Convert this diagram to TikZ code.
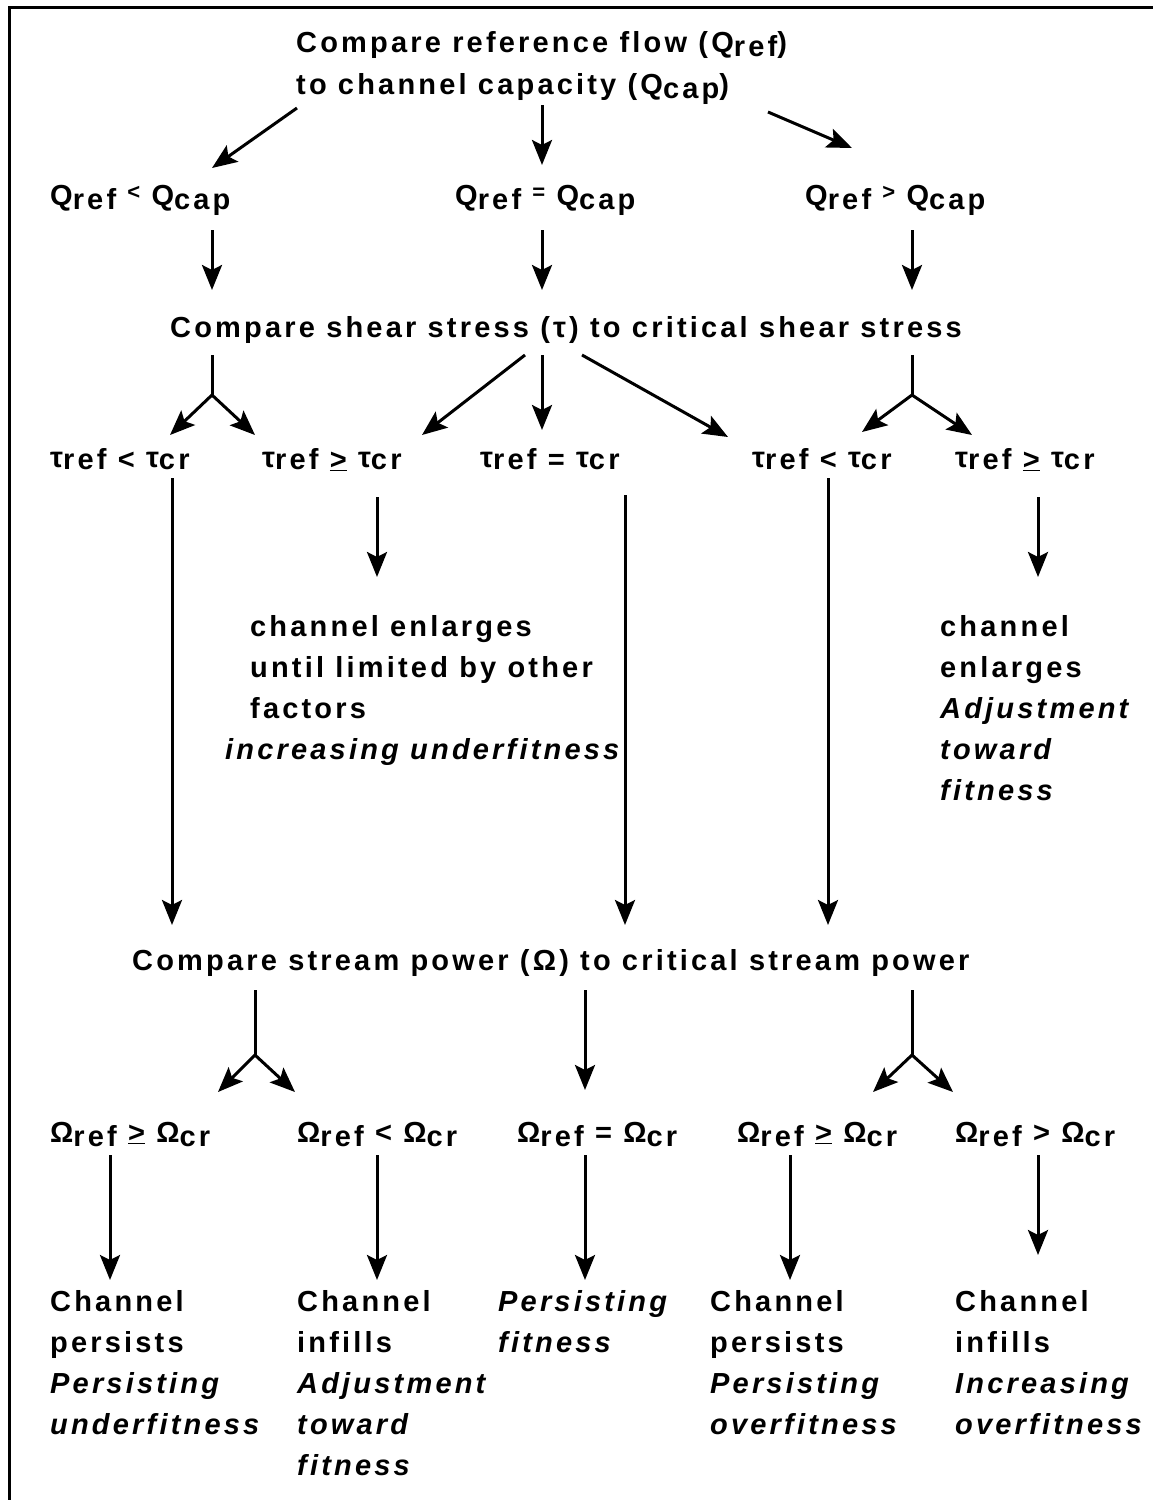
\documentclass[tikz,border=0pt]{standalone}
\usepackage{fontspec}
\setmainfont{Liberation Sans}[LetterSpace=11]
\usetikzlibrary{arrows.meta}
\newcommand\lo[1]{\raisebox{-4pt}{#1}}
\newcommand\hi[1]{\raisebox{6pt}{\fontsize{22}{22}\selectfont #1}}
\newcommand\tu{\raisebox{2pt}{τ}}
\begin{document}
\begin{tikzpicture}[x=1pt,y=-1pt,
  txt/.style={inner sep=0pt,anchor=base west,align=left,font=\fontsize{29}{41}\selectfont\bfseries},
  itx/.style={txt,font=\fontsize{29}{41}\selectfont\bfseries\itshape},
  arr/.style={line width=3pt,-{Stealth[length=25pt,width=20pt,inset=5pt]}},
  ln/.style={line width=3pt}]
\useasboundingbox (0,0) rectangle (1152,1500);
\fill[white] (0,0) rectangle (1152,1500);
\draw[line width=3pt] (9,1510) -- (9,7) -- (1160,7);
% title
\node[txt] (t1) at (296,52) {Compare reference flow (Q\lo{ref})};
\node[txt] (t2) at (296,94) {to channel capacity (Q\lo{cap})};
\draw[arr] (297,108) -- (212,168);
\draw[arr] (542,105) -- (542,165);
\draw[arr] (768,112) -- (852,148);
% Q row
\node[txt] (q1) at (50,205) {Q\lo{ref} \hi{<} Q\lo{cap}};
\node[txt] (q2) at (455,205) {Q\lo{ref} \hi{=} Q\lo{cap}};
\node[txt] (q3) at (805,205) {Q\lo{ref} \hi{>} Q\lo{cap}};
\draw[arr] (212,230) -- (212,290);
\draw[arr] (542,230) -- (542,290);
\draw[arr] (912,230) -- (912,290);
% shear
\node[txt] (sh) at (170,337) {Compare shear stress (τ) to critical shear stress};
\coordinate (f1) at (212,395);
\draw[ln] (212,355) -- (f1);
\draw[arr] (f1) -- (170,435);
\draw[arr] (f1) -- (255,435);
\draw[arr] (525,355) -- (422,435);
\draw[arr] (542,355) -- (542,430);
\draw[arr] (582,355) -- (728,437);
\coordinate (f2) at (912,395);
\draw[ln] (912,355) -- (f2);
\draw[arr] (f2) -- (862,432);
\draw[arr] (f2) -- (972,435);
% tau row
\node[txt] (a1) at (50,469) {\tu ref < \tu cr};
\node[txt] (a2) at (262,469) {\tu ref \underline{>} \tu cr};
\node[txt] (a3) at (480,469) {\tu ref = \tu cr};
\node[txt] (a4) at (752,469) {\tu ref < \tu cr};
\node[txt] (a5) at (955,469) {\tu ref \underline{>} \tu cr};
\draw[arr] (172,478) -- (172,925);
\draw[arr] (377,497) -- (377,577);
\draw[arr] (625,495) -- (625,925);
\draw[arr] (828,478) -- (828,925);
\draw[arr] (1038,497) -- (1038,577);
% middle texts (base = last line)
\node[txt] (m1) at (250,718) {channel enlarges\\until limited by other\\factors};
\node[itx] (m1i) at (225,759) {increasing underfitness};
\node[txt] (m2) at (940,677) {channel\\enlarges};
\node[itx] (m2i) at (940,800) {Adjustment\\toward\\fitness};
% stream power
\node[txt] (sp) at (132,970) {Compare stream power (Ω) to critical stream power};
\coordinate (g1) at (255,1055);
\draw[ln] (255,990) -- (g1);
\draw[arr] (g1) -- (218,1092);
\draw[arr] (g1) -- (295,1092);
\draw[arr] (585,990) -- (585,1090);
\coordinate (g2) at (912,1055);
\draw[ln] (912,990) -- (g2);
\draw[arr] (g2) -- (873,1092);
\draw[arr] (g2) -- (953,1092);
% omega row
\node[txt] (o1) at (50,1142) {Ω\lo{ref} \underline{>} Ω\lo{cr}};
\node[txt] (o2) at (297,1142) {Ω\lo{ref} < Ω\lo{cr}};
\node[txt] (o3) at (517,1142) {Ω\lo{ref} = Ω\lo{cr}};
\node[txt] (o4) at (737,1142) {Ω\lo{ref} \underline{>} Ω\lo{cr}};
\node[txt] (o5) at (955,1142) {Ω\lo{ref} > Ω\lo{cr}};
\draw[arr] (110,1155) -- (110,1280);
\draw[arr] (377,1155) -- (377,1280);
\draw[arr] (585,1155) -- (585,1280);
\draw[arr] (790,1155) -- (790,1280);
\draw[arr] (1038,1155) -- (1038,1255);
% bottom texts (base = last line)
\node[txt] (b1) at (50,1352) {Channel\\persists};
\node[itx] (b1i) at (50,1434) {Persisting\\underfitness};
\node[txt] (b2) at (297,1352) {Channel\\infills};
\node[itx] (b2i) at (297,1475) {Adjustment\\toward\\fitness};
\node[itx] (b3i) at (498,1352) {Persisting\\fitness};
\node[txt] (b4) at (710,1352) {Channel\\persists};
\node[itx] (b4i) at (710,1434) {Persisting\\overfitness};
\node[txt] (b5) at (955,1352) {Channel\\infills};
\node[itx] (b5i) at (955,1434) {Increasing\\overfitness};
\end{tikzpicture}
\end{document}
